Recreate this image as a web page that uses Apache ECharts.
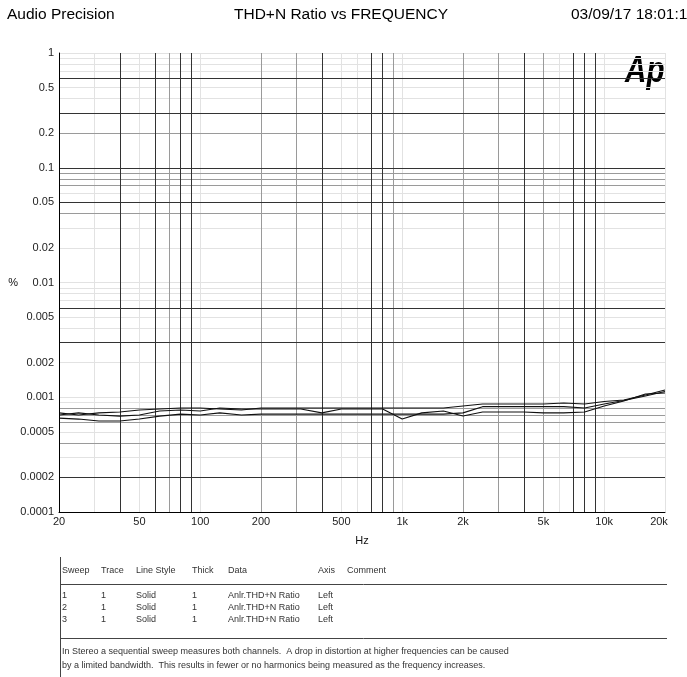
<!DOCTYPE html>
<html><head><meta charset="utf-8">
<script src="https://cdn.jsdelivr.net/npm/echarts@6/dist/echarts.min.js"></script>
<style>html,body{margin:0;padding:0;background:#fff}#c{width:687px;height:677px}</style>
</head><body><div id="c"></div><script>
// ---- data ----
const freqs = [20,25,31.5,40,50,63,80,100,125,160,200,250,315,400,500,630,800,1000,1250,1600,2000,2500,3150,4000,5000,6300,8000,10000,12500,16000,20000];
const sweep1 = [0.00073,0.0007,0.00073,0.000744,0.000774,0.00079,0.000806,0.000806,0.00079,0.000774,0.000806,0.000806,0.000806,0.000806,0.000806,0.000806,0.000806,0.000806,0.000806,0.000806,0.000839,0.000873,0.000873,0.000873,0.000873,0.000891,0.000873,0.000918,0.000946,0.001046,0.001156];
const sweep2 = [0.0007,0.00073,0.0007,0.000686,0.0007,0.000759,0.000774,0.000759,0.000806,0.00079,0.00079,0.00079,0.00079,0.00073,0.00079,0.00079,0.00079,0.000646,0.00073,0.000759,0.000686,0.000744,0.000744,0.000744,0.00073,0.00073,0.000744,0.000839,0.000927,0.001067,0.001089];
const sweep3 = [0.000659,0.000646,0.000621,0.000621,0.000646,0.000686,0.000714,0.0007,0.00073,0.0007,0.000714,0.000714,0.000714,0.000714,0.000714,0.000714,0.000714,0.000714,0.000714,0.000714,0.00073,0.000827,0.000827,0.000827,0.000827,0.000827,0.000806,0.000873,0.000937,0.001025,0.001122];
const xTickValues = [20,50,100,200,500,1000,2000,5000,10000,20000];
const xTickText = ['20','50','100','200','500','1k','2k','5k','10k','20k'];
const yTickValues = [1,0.5,0.2,0.1,0.05,0.02,0.01,0.005,0.002,0.001,0.0005,0.0002,0.0001];
const yTickText = ['1','0.5','0.2','0.1','0.05','0.02','0.01','0.005','0.002','0.001','0.0005','0.0002','0.0001'];
const gridXDark = [40,60,80,90,400,700,800,4000,7000,8000,9000];
const gridXMid = [70,200,300,900,2000,3000,5000];
const gridXLight = [30,50,100,500,600,1000,6000,10000,20000];
const gridYDark = [0.6,0.3,0.1,0.05,0.006,0.003,0.0002];
const gridYMid = [0.2,0.09,0.08,0.07,0.04,0.0008,0.0007,0.0006,0.0004];
const gridYLight = [1,0.9,0.8,0.7,0.5,0.4,0.06,0.03,0.02,0.01,0.009,0.008,0.007,0.005,0.004,0.002,0.001,0.0009,0.0005,0.0003];
const tableHeader = ['Sweep','Trace','Line Style','Thick','Data','Axis','Comment'];
const tableRows = [
  ['1','1','Solid','1','Anlr.THD+N Ratio','Left',''],
  ['2','1','Solid','1','Anlr.THD+N Ratio','Left',''],
  ['3','1','Solid','1','Anlr.THD+N Ratio','Left','']
];
const commentLines = [
  'In Stereo a sequential sweep measures both channels.  A drop in distortion at higher frequencies can be caused',
  'by a limited bandwidth.  This results in fewer or no harmonics being measured as the frequency increases.'
];
// ---- chart ----
const FONT = '"Liberation Sans", Arial, sans-serif';
const chart = echarts.init(document.getElementById('c'), null, {renderer:'canvas'});
function gridSeries(xs, ys, color, z) {
  return {type:'line', data:[], silent:true, z:z, animation:false,
    markLine:{silent:true, animation:false, precision:8, symbol:['none','none'], label:{show:false},
      lineStyle:{color:color, width:1, type:'solid'}, emphasis:{disabled:true},
      data: xs.map(v=>({xAxis:v})).concat(ys.map(v=>({yAxis:v})))}};
}
const labelSeries = {type:'line', data:[], silent:true, z:5, animation:false,
  markLine:{silent:true, animation:false, precision:8, symbol:['none','none'],
    lineStyle:{color:'rgba(0,0,0,0)', width:0}, emphasis:{disabled:true},
    label:{show:true, color:'#222', fontSize:11, fontFamily:FONT, position:'start'},
    data: xTickValues.map((v,i)=>({xAxis:v, label:{show:true, position:'start', distance:4, formatter:xTickText[i],
              color:'#222', fontSize:11, fontFamily:FONT, offset: i===xTickValues.length-1?[-6,0]:[0,0]}}))
      .concat(yTickValues.map((v,i)=>({yAxis:v, label:{show:true, position:'start', distance:5, formatter:yTickText[i],
              color:'#222', fontSize:11, fontFamily:FONT}})))}};
function sweepSeries(vals){
  return {type:'line', data: freqs.map((f,i)=>[f, vals[i]]), showSymbol:false, symbol:'none', z:10,
    lineStyle:{color:'#111', width:1.2}, animation:false, silent:true};
}
const gfx = [];
gfx.push({type:'text', left:625, top:53, style:{text:'Ap', font:'italic bold 37px '+FONT, fill:'#000'}, scaleX:0.8});
// table
const colX = [62,101,136,192,228,318,347];
gfx.push({type:'line', shape:{x1:60.5,y1:557,x2:60.5,y2:677}, style:{stroke:'#444', lineWidth:1}});
gfx.push({type:'line', shape:{x1:60,y1:584.5,x2:667,y2:584.5}, style:{stroke:'#444', lineWidth:1}});
gfx.push({type:'line', shape:{x1:60,y1:638.5,x2:667,y2:638.5}, style:{stroke:'#444', lineWidth:1}});
const TF = '9px '+FONT;
tableHeader.forEach((t,i)=>gfx.push({type:'text', x:colX[i], y:571, style:{text:t, font:TF, fill:'#333', verticalAlign:'middle'}}));
tableRows.forEach((r,ri)=>r.forEach((t,i)=>{ if(t) gfx.push({type:'text', x:colX[i], y:596+ri*12, style:{text:t, font:TF, fill:'#333', verticalAlign:'middle'}}); }));
commentLines.forEach((t,i)=>gfx.push({type:'text', x:62, y:652+i*14, style:{text:t, font:TF, fill:'#333', verticalAlign:'middle'}}));
chart.setOption({
  animation:false,
  backgroundColor:'#fff',
  title:[
    {text:'Audio Precision', left:7, top:7, padding:0, textStyle:{fontSize:15.5, fontWeight:'normal', color:'#000', fontFamily:FONT}},
    {text:'THD+N Ratio vs FREQUENCY', left:234, top:7, padding:0, textStyle:{fontSize:15.5, fontWeight:'normal', color:'#000', fontFamily:FONT}},
    {text:'03/09/17 18:01:15', left:571, top:7, padding:0, textStyle:{fontSize:15.5, fontWeight:'normal', color:'#000', fontFamily:FONT}}
  ],
  grid:{left:59, top:53, width:606, height:459, containLabel:false},
  xAxis:{type:'log', logBase:10, min:20, max:20000, z:30,
    axisLine:{show:true, lineStyle:{color:'#000', width:1}}, axisTick:{show:false}, axisLabel:{show:false},
    splitLine:{show:false}, minorSplitLine:{show:false},
    name:'Hz', nameLocation:'middle', nameGap:23, nameTextStyle:{fontSize:11, color:'#111', fontFamily:FONT}},
  yAxis:{type:'log', logBase:10, min:0.0001, max:1, z:30,
    axisLine:{show:true, lineStyle:{color:'#000', width:1}}, axisTick:{show:false}, axisLabel:{show:false},
    splitLine:{show:false},
    name:'%', nameLocation:'middle', nameRotate:0, nameGap:41, nameTextStyle:{fontSize:11, color:'#111', fontFamily:FONT}},
  series:[
    gridSeries(gridXLight, gridYLight, '#e2e2e2', 1),
    gridSeries(gridXMid, gridYMid, '#9a9a9a', 2),
    gridSeries(gridXDark, gridYDark, '#333', 3),
    labelSeries,
    sweepSeries(sweep1), sweepSeries(sweep2), sweepSeries(sweep3)
  ],
  graphic: gfx
});
</script></body></html>
